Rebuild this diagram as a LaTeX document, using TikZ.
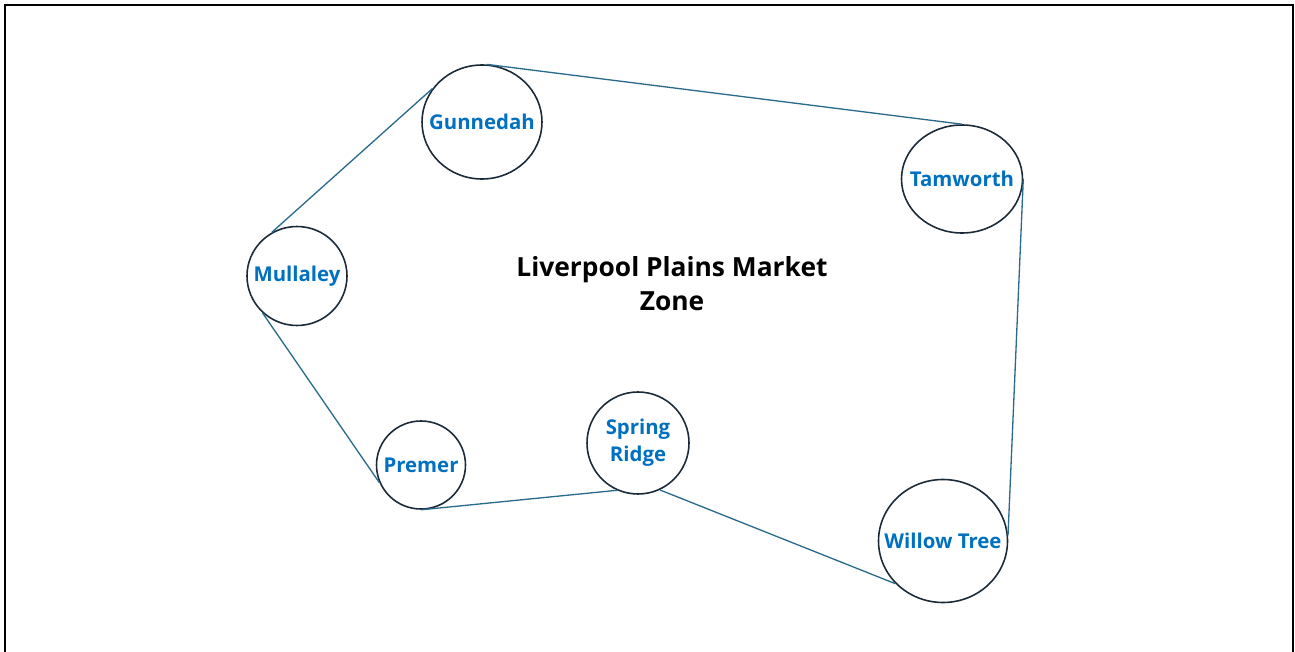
\documentclass[tikz,border=0pt]{standalone}
\usepackage{fontspec}
\setmainfont{Open Sans}
\usetikzlibrary{shapes.geometric}
\definecolor{townblue}{HTML}{0070C0}
\definecolor{linkteal}{HTML}{2A6B8C}
\definecolor{rimdark}{HTML}{1B2A38}
\tikzset{
	town/.style 2 args={ellipse, draw=rimdark, line width=0.9pt, inner sep=0pt,
		minimum width=#1*0.02cm, minimum height=#2*0.02cm,
		text=townblue, font=\fontsize{11.6}{15.3}\selectfont\bfseries},
	link/.style={draw=linkteal, line width=0.75pt},
	zonetitle/.style={align=center, font=\fontsize{15}{19.3}\selectfont\bfseries}
}

\begin{document}
\begin{tikzpicture}[x=0.02cm,y=-0.02cm]
	\clip (0,0) rectangle (1295,652);
	\draw[line width=1.2pt] (5,5) rectangle (1293,690);
	\path (482,122) node[town={120}{114}] (G) {\makebox[0pt]{Gunnedah}}
	(962,179) node[town={121}{108}] (T) {\makebox[0pt]{Tamworth}}
	(297,276) node[town={100}{99}] (M) {\makebox[0pt]{Mullaley}}
	(421,465) node[town={89}{88}] (P) {\makebox[0pt]{Premer}}
	(638,443) node[town={102}{102}] (S) {\makebox[0pt]{\begin{tabular}{@{}c@{}}Spring\\Ridge\end{tabular}}}
	(943,541) node[town={129}{123}] (W) {\makebox[0pt]{Willow Tree}}
	(672,284) node[zonetitle] (Z) {Liverpool Plains Market\\Zone};
	\draw[link] (M.120) -- (G.146) (G.85) -- (T.90) (T.0) -- (W.5)
	(W.222) -- (S.295) (S.246) -- (P.270) (P.203) -- (M.227);
\end{tikzpicture}
\end{document}
